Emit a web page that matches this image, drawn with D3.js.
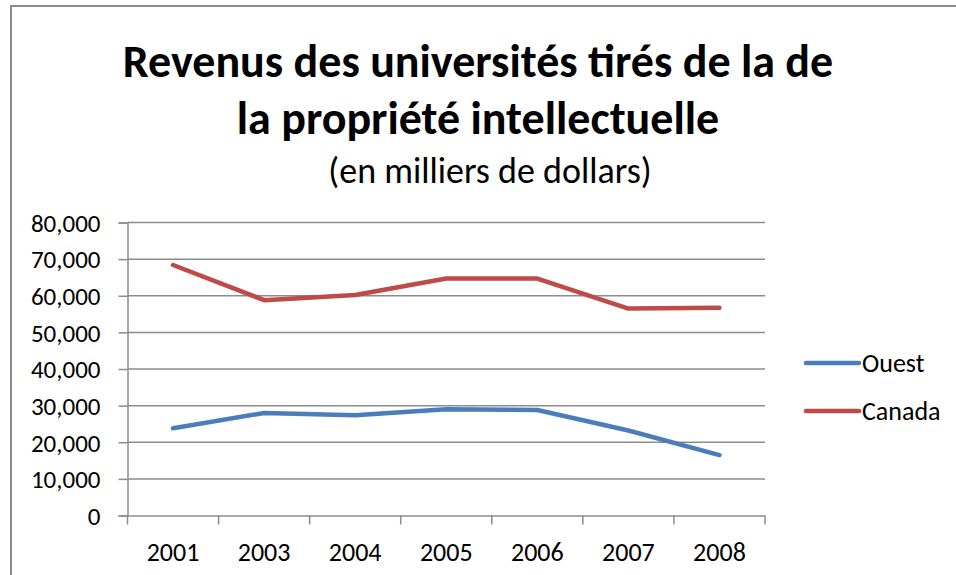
<!DOCTYPE html>
<html>
<head>
<meta charset="utf-8">
<script src="https://cdn.jsdelivr.net/npm/d3@7"></script>
<style>
  body { margin: 0; background: #fff; }
  svg { display: block; }
  text { font-family: Carlito, Calibri, Lato, "Open Sans", sans-serif; fill: #000; }
</style>
</head>
<body>
<svg id="chart" width="956" height="575"></svg>
<script>
// chart values
const years = ["2001", "2003", "2004", "2005", "2006", "2007", "2008"];
const ouest = [23800, 28000, 27400, 29000, 28800, 23200, 16500];
const canada = [68400, 58800, 60200, 64700, 64700, 56500, 56700];
const seriesNames = ["Ouest", "Canada"];
const seriesColors = ["#4a7ebb", "#be4b48"];
const yTicks = [0, 10000, 20000, 30000, 40000, 50000, 60000, 70000, 80000];
const titleLines = ["Revenus des universités tirés de la de", "la propriété intellectuelle"];
const subtitle = "(en milliers de dollars)";

const svg = d3.select("#chart");

// outer frame
svg.append("rect")
  .attr("x", 11).attr("y", 6)
  .attr("width", 960).attr("height", 600)
  .attr("fill", "#fff")
  .attr("stroke", "#8a8a8a")
  .attr("stroke-width", 2);

// titles
svg.append("text")
  .attr("x", 478).attr("y", 77)
  .attr("text-anchor", "middle")
  .attr("font-size", 46).attr("font-weight", "bold")
  .text(titleLines[0]);
svg.append("text")
  .attr("x", 478).attr("y", 134)
  .attr("text-anchor", "middle")
  .attr("font-size", 46).attr("font-weight", "bold")
  .text(titleLines[1]);
svg.append("text")
  .attr("x", 490).attr("y", 183)
  .attr("text-anchor", "middle")
  .attr("font-size", 36)
  .text(subtitle);

const plotLeft = 127.5, plotRight = 765, plotTop = 222.5, plotBottom = 515.5;

const x = d3.scaleBand().domain(years).range([plotLeft, plotRight]);
const y = d3.scaleLinear().domain([0, 80000]).range([plotBottom, plotTop]);

// grid lines
svg.append("g")
  .selectAll("line")
  .data(yTicks.filter(d => d > 0))
  .join("line")
  .attr("x1", plotLeft).attr("x2", plotRight)
  .attr("y1", d => y(d)).attr("y2", d => y(d))
  .attr("stroke", "#8c8c8c")
  .attr("stroke-width", 1.5);

// y axis
const yAxis = svg.append("g")
  .attr("transform", `translate(${plotLeft},0)`)
  .call(d3.axisLeft(y).tickValues(yTicks).tickSize(9).tickPadding(18)
    .tickFormat(d => d === 0 ? "0" : d3.format(",")(d)));
yAxis.selectAll("text").attr("font-size", 25).attr("dy", "0.35em");

// x axis
const xAxis = svg.append("g")
  .attr("transform", `translate(0,${plotBottom})`)
  .call(d3.axisBottom(x).tickSize(0));
xAxis.selectAll("text").attr("font-size", 26).attr("y", 45).attr("dy", 0);
// category boundary ticks
xAxis.selectAll(".bound")
  .data(years.concat(["end"]))
  .join("line")
  .attr("class", "bound")
  .attr("x1", (d, i) => plotLeft + i * x.step())
  .attr("x2", (d, i) => plotLeft + i * x.step())
  .attr("y1", 0).attr("y2", 9)
  .attr("stroke", "#8c8c8c").attr("stroke-width", 1.5);

svg.selectAll(".domain, .tick line")
  .attr("stroke", "#8c8c8c").attr("stroke-width", 1.5);

// lines
const line = d3.line()
  .x((d, i) => x(years[i]) + x.bandwidth() / 2)
  .y(d => y(d));

[ouest, canada].forEach((vals, k) => {
  svg.append("path")
    .datum(vals)
    .attr("d", line)
    .attr("fill", "none")
    .attr("stroke", seriesColors[k])
    .attr("stroke-width", 4.5)
    .attr("stroke-linecap", "round")
    .attr("stroke-linejoin", "round");
});

// legend
const legend = svg.append("g");
seriesNames.forEach((name, k) => {
  const ly = 363 + k * 48;
  legend.append("line")
    .attr("x1", 806).attr("x2", 859)
    .attr("y1", ly).attr("y2", ly)
    .attr("stroke", seriesColors[k])
    .attr("stroke-width", 4.5)
    .attr("stroke-linecap", "round");
  legend.append("text")
    .attr("x", 862).attr("y", ly)
    .attr("dy", "0.35em")
    .attr("font-size", 26)
    .text(name);
});
</script>
</body>
</html>
